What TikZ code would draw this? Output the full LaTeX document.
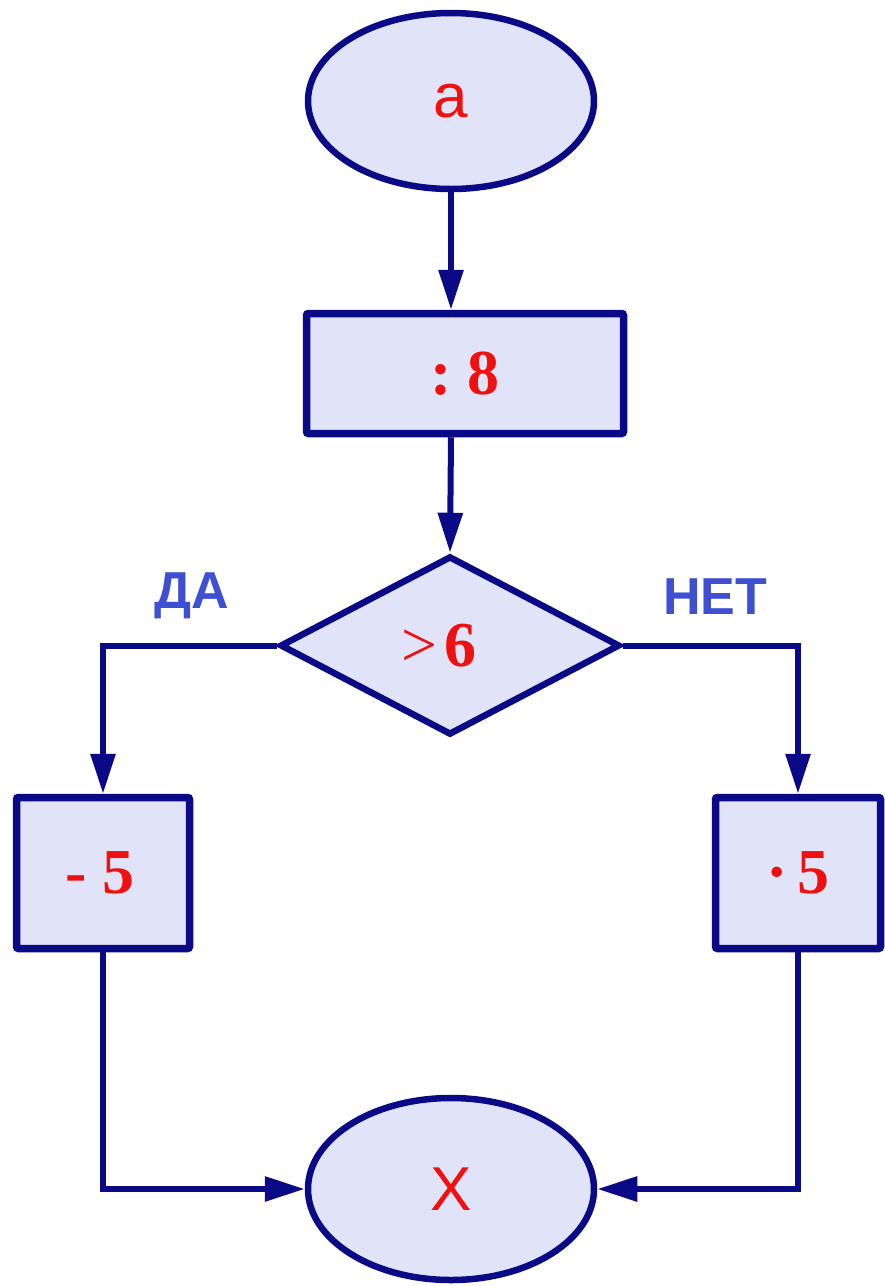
\documentclass[tikz,border=0pt]{standalone}
\usepackage{fontspec}
\setmainfont{Liberation Serif}
\newfontfamily\arialf{Liberation Sans}
\usetikzlibrary{shapes.geometric,arrows.meta}
\definecolor{navy}{HTML}{0A0A86}
\definecolor{boxfill}{HTML}{E1E3F8}
\definecolor{redtext}{HTML}{F01010}
\definecolor{labelblue}{HTML}{3F4FD2}
\begin{document}
\begin{tikzpicture}[x=1pt,y=-1pt,
  shp/.style={draw=navy,fill=boxfill,line width=6.5pt,inner sep=0pt},
  oval/.style={shp,ellipse,font=\arialf\fontsize{62}{72}\selectfont,text=redtext},
  opbox/.style={shp,rectangle,rounded corners=2pt,line width=7.5pt,font=\bfseries\fontsize{64}{74}\selectfont,text=redtext},
  cond/.style={shp,diamond,font=\bfseries\fontsize{64}{74}\selectfont,text=redtext},
  lbl/.style={font=\arialf\bfseries\fontsize{52}{62}\selectfont,text=labelblue},
  conn/.style={draw=navy,line width=6pt,-{Triangle[length=40pt,width=24pt]}}]
\useasboundingbox (0,0) rectangle (885,1286);
\node[oval,minimum width=286pt,minimum height=176pt] (start) at (451,101) {a};
\node[opbox,minimum width=317pt,minimum height=120pt] (div) at (465,373.5) {:\hspace{0.25em}8};
\node[cond,minimum width=340pt,minimum height=179pt] (test) at (450,645.5) {\hspace{-0.35em}{\mdseries>}\hspace{0.1em}6};
\node[opbox,minimum width=173pt,minimum height=151pt] (minus) at (103,873) {\hspace{-0.1em}-\hspace{0.25em}5};
\node[opbox,minimum width=165pt,minimum height=151pt] (times) at (798,873) {·\hspace{0.15em}5};
\node[oval,minimum width=286pt,minimum height=182pt] (res) at (451,1189) {X};
\node[lbl] (yes) at (192,596) {ДА};
\node[lbl] (no) at (715,597) {НЕТ};
\coordinate (divtop) at (start.south |- div.north);
\coordinate (divbot) at (start.south |- div.south);
\draw[conn] (start.south) -- (divtop);
\draw[conn] (divbot) -- (test.north);
\draw[conn] (test.west) -| (minus.north);
\draw[conn] (test.east) -| (times.north);
\draw[conn] (minus.south) |- (res.west);
\draw[conn] (times.south) |- (res.east);
\end{tikzpicture}
\end{document}
